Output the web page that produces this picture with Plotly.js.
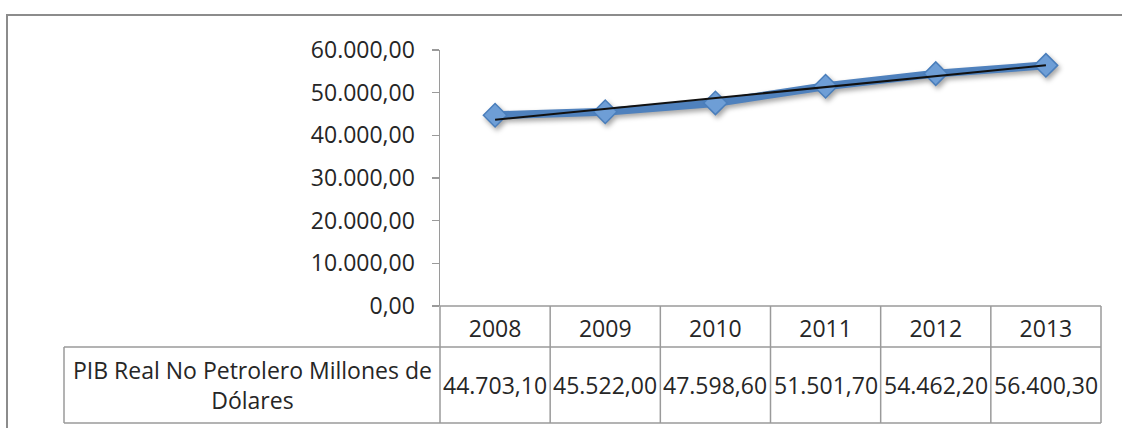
<!DOCTYPE html>
<html>
<head>
<meta charset="utf-8">
<script src="https://cdn.plot.ly/plotly-3.0.1.min.js"></script>
<style>
  html, body { margin: 0; padding: 0; background: #ffffff; }
  #chart { width: 1122px; height: 428px; }
  /* soft shadow under the data series */
  #chart .scatterlayer .trace:first-child { filter: drop-shadow(2px 3px 2.5px rgba(0,0,0,0.35)); }
</style>
</head>
<body>
<div id="chart"></div>
<script>
// PIB real no petrolero, millones de dólares
const years = ['2008', '2009', '2010', '2011', '2012', '2013'];
const pibNoPetrolero = [44703.10, 45522.00, 47598.60, 51501.70, 54462.20, 56400.30];
const seriesName = 'PIB Real No Petrolero Millones de Dólares';
const tableLabel = 'PIB Real No Petrolero Millones de<br>Dólares';

// Number format with '.' thousands and ',' decimals
function fmt(v) {
  const parts = v.toFixed(2).split('.');
  return parts[0].replace(/\B(?=(\d{3})+(?!\d))/g, '.') + ',' + parts[1];
}

// Linear trend line (least squares over the category index)
function linearTrend(vals) {
  const n = vals.length;
  const xs = vals.map((_, i) => i + 1);
  const mx = xs.reduce((a, b) => a + b, 0) / n;
  const my = vals.reduce((a, b) => a + b, 0) / n;
  let sxy = 0, sxx = 0;
  for (let i = 0; i < n; i++) { sxy += (xs[i] - mx) * (vals[i] - my); sxx += (xs[i] - mx) ** 2; }
  const slope = sxy / sxx;
  return xs.map(x => my + slope * (x - mx));
}

const W = 1122, H = 428;
const M = { l: 440, r: 21, t: 50, b: 122 };
const PW = W - M.l - M.r, PH = H - M.t - M.b;
// pixel -> paper coordinates
const px = x => (x - M.l) / PW;
const py = y => (H - M.b - y) / PH;

const FONT = '"Open Sans", "Noto Sans", sans-serif';
const FS = 23;
const TXT = '#262626';
const GRID = '#9a9a9a';

const rowTop = H - M.b;       // x axis line / header row top
const rowMid = 347;           // header row bottom
const rowBot = 423;           // value row bottom
const labelLeft = 64;

const shapes = [];
function line(x0, y0, x1, y1, color, width) {
  shapes.push({ type: 'line', xref: 'paper', yref: 'paper',
    x0: px(x0), y0: py(y0), x1: px(x1), y1: py(y1),
    line: { color: color, width: width } });
}
// outer chart frame
shapes.push({ type: 'rect', xref: 'paper', yref: 'paper',
  x0: px(7), y0: py(15), x1: px(W + 20), y1: py(H + 20),
  line: { color: '#8c8c8c', width: 2 }, fillcolor: 'rgba(0,0,0,0)', layer: 'below' });
// data table grid
const n = years.length;
for (let i = 1; i <= n; i++) {
  shapes.push({ type: 'line', xref: 'paper', yref: 'paper',
    x0: i / n, x1: i / n, y0: py(rowTop), y1: py(rowBot), line: { color: GRID, width: 1.5 } });
}
line(M.l, rowTop, M.l, rowBot, GRID, 1.5);
line(labelLeft, rowMid, W - M.r, rowMid, GRID, 1.5);
line(labelLeft, rowBot, W - M.r, rowBot, GRID, 1.5);
line(labelLeft, rowMid, labelLeft, rowBot, GRID, 1.5);
line(M.l, rowTop, W - M.r, rowTop, GRID, 1.5);

// value row of the data table (category axis: x is the category index)
const annotations = pibNoPetrolero.map((v, i) => ({
  xref: 'x', yref: 'paper', x: i, y: py((rowMid + rowBot) / 2),
  text: fmt(v), showarrow: false, xanchor: 'center', yanchor: 'middle',
  font: { family: FONT, size: FS, color: TXT }
}));
annotations.push({
  xref: 'paper', yref: 'paper', x: px((labelLeft + M.l) / 2), y: py((rowMid + rowBot) / 2),
  text: tableLabel, showarrow: false, xanchor: 'center', yanchor: 'middle', align: 'center',
  font: { family: FONT, size: FS, color: TXT }
});

const data = [
  {
    type: 'scatter', mode: 'lines+markers', name: seriesName,
    x: years, y: pibNoPetrolero,
    line: { color: '#4F81BD', width: 8 },
    marker: { symbol: 'diamond', size: 18, color: '#6E9ED6',
      line: { color: '#4A7EBB', width: 1.5 } }
  },
  {
    type: 'scatter', mode: 'lines', name: 'Lineal',
    x: years, y: linearTrend(pibNoPetrolero),
    line: { color: '#111111', width: 2 }
  }
];

const layout = {
  width: W, height: H,
  margin: M,
  paper_bgcolor: '#ffffff', plot_bgcolor: '#ffffff',
  separators: ',.',
  showlegend: false,
  font: { family: FONT, size: FS, color: TXT },
  xaxis: {
    type: 'category', range: [-0.5, n - 0.5],
    showgrid: false, zeroline: false, showline: false,
    ticks: '', ticklabelstandoff: 7,
    tickfont: { family: FONT, size: FS, color: TXT }
  },
  yaxis: {
    range: [0, 60000], dtick: 10000, tickformat: ',.2f',
    showgrid: false, zeroline: false,
    showline: true, linecolor: GRID, linewidth: 1.5,
    ticks: 'outside', ticklen: 7, tickcolor: GRID, tickwidth: 1.5,
    ticklabelstandoff: 12,
    tickfont: { family: FONT, size: FS, color: TXT }
  },
  shapes: shapes,
  annotations: annotations
};

Plotly.newPlot('chart', data, layout, { staticPlot: true });
</script>
</body>
</html>
